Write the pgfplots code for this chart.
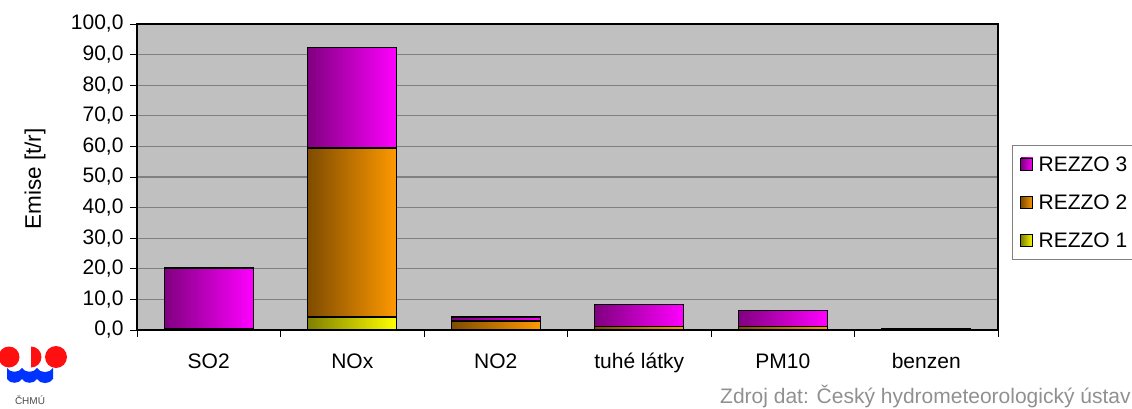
\documentclass[border=0pt]{standalone}
\usepackage{pgfplots}
\pgfplotsset{compat=1.18}
\usepackage{fontspec}
\setmainfont{Liberation Sans}
\definecolor{gridgray}{HTML}{808080}
\definecolor{bggray}{HTML}{C0C0C0}
\definecolor{rThreeL}{HTML}{800080}
\definecolor{rThreeR}{HTML}{FF00FF}
\definecolor{rTwoL}{HTML}{7F4C00}
\definecolor{rTwoR}{HTML}{FF9900}
\definecolor{rOneL}{HTML}{808000}
\definecolor{rOneR}{HTML}{FFFF00}
\definecolor{srcgray}{HTML}{909090}
\definecolor{logored}{HTML}{FF1010}
\definecolor{logoblue}{HTML}{0033FF}
\pgfplotsset{
  segbar/.style={ybar, bar width=0.62, bar shift=0pt, draw=black, line width=1.4pt},
  rthree/.style={segbar, left color=rThreeL, right color=rThreeR},
  rtwo/.style={segbar, left color=rTwoL, right color=rTwoR},
  rone/.style={segbar, left color=rOneL, right color=rOneR},
}

\begin{document}
\begin{tikzpicture}[x=1pt,y=1pt]
\useasboundingbox (0,0) rectangle (1132,408);
\begin{axis}[
  at={(137pt,78pt)}, anchor=south west,
  scale only axis, width=861pt, height=306pt,
  xmin=-0.5, xmax=5.5, ymin=0, ymax=100,
  xtick={0,1,2,3,4,5},
  xticklabels={SO2,NOx,NO2,tuhé látky,PM10,benzen},
  major x tick style={draw=none},
  minor xtick={-0.5,0.5,1.5,2.5,3.5,4.5,5.5},
  minor x tick style={black, line width=1pt},
  minor tick length=7pt,
  ytick={0,10,...,100},
  major tick length=7pt,
  y tick style={black, line width=1pt},
  tick align=outside,
  xtick pos=bottom, ytick pos=left,
  ymajorgrids,
  major grid style={gridgray, line width=1.3pt},
  axis background/.style={fill=bggray},
  axis line style={black, line width=1.6pt},
  tick label style={font=\fontsize{21}{24}\selectfont},
  yticklabel style={xshift=-3pt},
  xticklabel style={yshift=-13pt},
  /pgf/number format/.cd, fixed, fixed zerofill, precision=1, use comma, assume math mode=true,
  /pgfplots/.cd,
  legend style={at={(axis description cs:1.0163,0.6046)}, anchor=north west,
    draw=gridgray, fill=white, line width=0.8pt,
    font=\fontsize{21}{24}\selectfont,
    row sep=18pt, inner xsep=8pt, inner ysep=9pt,
    cells={anchor=west}},
  legend image code/.code={\draw[#1, line width=0.9pt] (0pt,-5.5pt) rectangle (12pt,6.5pt); \path (15pt,0pt);},
]
% REZZO 3 (top of stack = total)
\addplot[rthree] coordinates {(0,20.2)};
\addlegendentry{REZZO 3}
\addplot[rthree, forget plot] coordinates {(1,92.3)};
\addplot[rthree, forget plot] coordinates {(2,4.3)};
\addplot[rthree, forget plot] coordinates {(3,8.4)};
\addplot[rthree, forget plot] coordinates {(4,6.4)};
\addplot[rthree, forget plot] coordinates {(5,0.5)};
% REZZO 2 (REZZO 1 + REZZO 2)
\addplot[rtwo] coordinates {(0,0.4)};
\addlegendentry{REZZO 2}
\addplot[rtwo, forget plot] coordinates {(1,59.5)};
\addplot[rtwo, forget plot] coordinates {(2,3.0)};
\addplot[rtwo, forget plot] coordinates {(3,1.1)};
\addplot[rtwo, forget plot] coordinates {(4,1.1)};
\addplot[rtwo, forget plot] coordinates {(5,0.2)};
% REZZO 1
\addplot[rone] coordinates {(0,0.1)};
\addlegendentry{REZZO 1}
\addplot[rone, forget plot] coordinates {(1,4.3)};
\addplot[rone, forget plot] coordinates {(2,0.1)};
\addplot[rone, forget plot] coordinates {(3,0.1)};
\addplot[rone, forget plot] coordinates {(4,0.1)};
\addplot[rone, forget plot] coordinates {(5,0.1)};
\end{axis}
\node[rotate=90, font=\fontsize{22.5}{26}\selectfont] at (35,229) {Emise [t/r]};
% logo
\fill[logored] (9,51) circle (10.5);
\fill[logored] (31,61.5) arc (90:-90:10.5) -- cycle;
\fill[logored] (56,51) circle (11);
\fill[logoblue] (7,40) to[bend right=60] (22,40) to[bend right=60] (37,40) to[bend right=60] (53,40) -- (53,29) to[bend left=60] (37,29) to[bend left=60] (22,29) to[bend left=60] (7,29) -- cycle;
\node[font=\fontsize{10}{12}\selectfont, text=black!70] at (30,8) {ČHMÚ};
\node[anchor=base west, font=\fontsize{21}{24}\selectfont, text=srcgray, inner sep=0pt] at (720,5) {Zdroj dat: Český hydrometeorologický ústav};
\end{tikzpicture}
\end{document}
